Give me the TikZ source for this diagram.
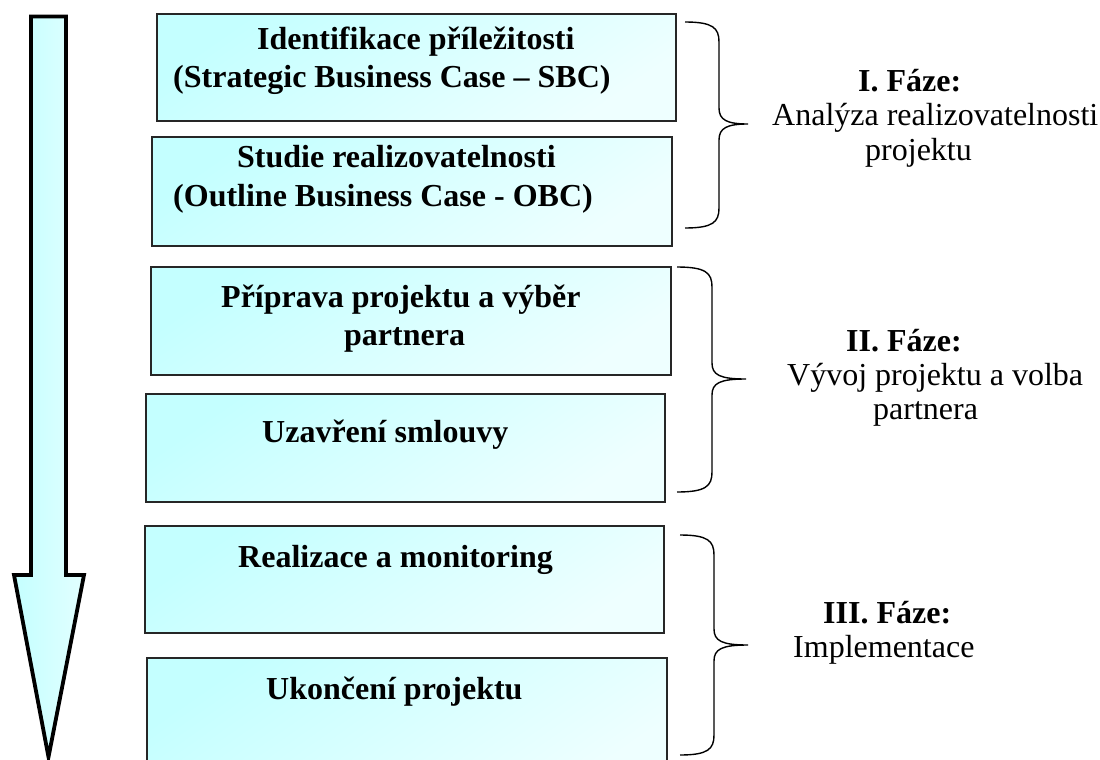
\documentclass[tikz,border=0pt]{standalone}
\usepackage{fontspec}
\setmainfont{Liberation Serif}
\begin{document}
\begin{tikzpicture}[x=1pt,y=-1pt,
  stagebox/.style={draw=black!85, line width=1.6pt, inner sep=0pt,
    top color={rgb,255:red,196;green,255;blue,255},
    bottom color={rgb,255:red,238;green,255;blue,255}, shading angle=35},
  btxt/.style={anchor=base west, inner sep=0pt, font=\fontsize{32}{38}\selectfont\bfseries},
  rtxt/.style={anchor=base west, inner sep=0pt, font=\fontsize{32}{36}\selectfont},
  rbold/.style={rtxt, font=\fontsize{32}{36}\selectfont\bfseries},
  bracestyle/.style={draw=black, line width=1.4pt},
  arrowstyle/.style={draw=black, line width=3.8pt, line join=miter,
    left color={rgb,255:red,196;green,255;blue,255},
    right color={rgb,255:red,226;green,255;blue,255}}
]
\useasboundingbox (0,0) rectangle (1100,760);
% big arrow
\path[arrowstyle] (31,16.5) -- (66,16.5) -- (66,575) -- (84,575) -- (48.5,757) -- (14,575) -- (31,575) -- cycle;
% boxes
\path[stagebox] (157,14) rectangle (676,121);
\path[stagebox] (152,137) rectangle (672,246);
\path[stagebox] (151,267) rectangle (671,375);
\path[stagebox] (146,394) rectangle (665,502);
\path[stagebox] (145,526) rectangle (664,633);
\path[stagebox] (147,658) rectangle (667,790);
% box texts
\node[btxt] (t1a) at (257,49) {Identifikace příležitosti};
\node[btxt] (t1b) at (173,87) {(Strategic Business Case – SBC)};
\node[btxt] (t2a) at (237,167) {Studie realizovatelnosti};
\node[btxt] (t2b) at (173,206) {(Outline Business Case - OBC)};
\node[btxt] (t3a) at (221,307) {Příprava projektu a výběr};
\node[btxt] (t3b) at (344,345) {partnera};
\node[btxt] (t4) at (262,442) {Uzavření smlouvy};
\node[btxt] (t5) at (238,567) {Realizace a monitoring};
\node[btxt] (t6) at (266,699) {Ukončení projektu};
% braces
\draw[bracestyle] (685,22) .. controls (713,22) and (719,28) .. (719,42)
  -- (719,108) .. controls (719,120) and (727,124) .. (748,124)
  .. controls (727,124) and (719,128) .. (719,140)
  -- (719,208) .. controls (719,222) and (713,228) .. (685,228);
\draw[bracestyle] (677,267) .. controls (706,267) and (712,273) .. (712,287)
  -- (712,363) .. controls (712,375) and (720,379) .. (746,379)
  .. controls (720,379) and (712,383) .. (712,395)
  -- (712,472) .. controls (712,486) and (706,492) .. (677,492);
\draw[bracestyle] (680,535) .. controls (708,535) and (714,541) .. (714,555)
  -- (714,629) .. controls (714,641) and (722,645) .. (748,645)
  .. controls (722,645) and (714,649) .. (714,661)
  -- (714,735) .. controls (714,749) and (708,755) .. (680,755);
% phase texts
\node[rbold] (p1a) at (858,91) {I. Fáze:};
\node[rtxt] (p1b) at (772,125) {Analýza realizovatelnosti};
\node[rtxt] (p1c) at (865,160) {projektu};
\node[rbold] (p2a) at (846,351) {II. Fáze:};
\node[rtxt] (p2b) at (787,385) {Vývoj projektu a volba};
\node[rtxt] (p2c) at (873,419) {partnera};
\node[rbold] (p3a) at (823,623) {III. Fáze:};
\node[rtxt] (p3b) at (793,657) {Implementace};
\end{tikzpicture}
\end{document}
